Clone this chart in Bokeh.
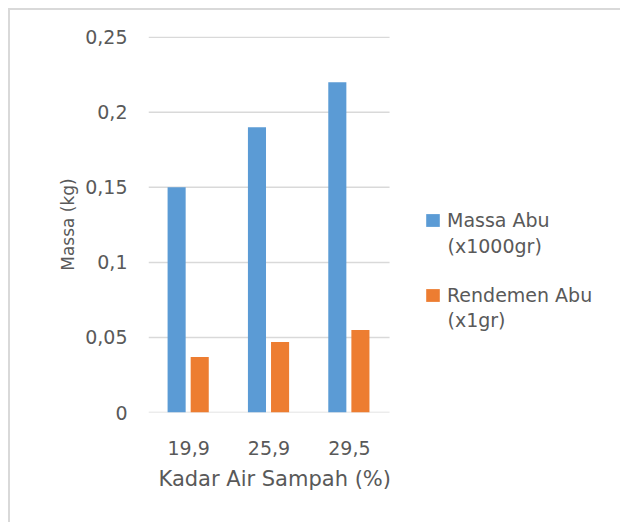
from bokeh.plotting import figure
from bokeh.models import (ColumnDataSource, Range1d, FixedTicker,
                          Legend, LegendItem, Title, Label)
from bokeh.transform import dodge
from bokeh.embed import file_html
from bokeh.resources import INLINE

categories = ["19,9", "25,9", "29,5"]
massa_abu = [0.15, 0.19, 0.22]
rendemen_abu = [0.037, 0.047, 0.055]
y_ticks = [0, 0.05, 0.1, 0.15, 0.2, 0.25]
y_tick_labels = ["0", "0,05", "0,1", "0,15", "0,2", "0,25"]
series_names = ["Massa Abu", "Rendemen Abu"]
series_units = ["(x1000gr)", "(x1gr)"]
x_title = "Kadar Air Sampah  (%)"
y_title = "Massa (kg)"

FONT = "DejaVu Sans"
TXT = "#595959"
GRID = "#d9d9d9"

# category slots: one unit per category, centred at i + 0.5
x_pos = [i + 0.5 for i in range(len(categories))]
n_cat = len(categories)

src = ColumnDataSource(dict(x=x_pos, massa=massa_abu, rend=rendemen_abu))

FRAME_W = 460          # px, frame spans plot + legend area
CAT_W = 80             # px per category slot
p = figure(width=612, height=514, output_backend="svg", toolbar_location=None,
           x_range=Range1d(0, FRAME_W / CAT_W),
           y_range=Range1d(0, 0.2505),
           min_border_left=138, min_border_right=12, min_border_top=26,
           min_border_bottom=112)
p.styles = {"border-left": "2px solid #d9d9d9", "border-top": "2px solid #d9d9d9",
            "margin-left": "8px", "margin-top": "8px"}
p.outline_line_color = None
p.background_fill_color = "white"
p.border_fill_color = "white"

# horizontal grid lines, limited to the category area
p.xgrid.grid_line_color = None
p.ygrid.grid_line_color = None
p.segment(x0=0, x1=n_cat, y0=y_ticks, y1=y_ticks, line_color=GRID,
          line_width=1.5, level="underlay")

r1 = p.vbar(x=dodge("x", -0.15), top="massa", width=0.225,
            source=src, fill_color="#5b9bd5", line_color=None)
r2 = p.vbar(x=dodge("x", 0.1375), top="rend", width=0.225,
            source=src, fill_color="#ed7d31", line_color=None)

p.yaxis.ticker = FixedTicker(ticks=y_ticks)
p.yaxis.major_label_overrides = dict(zip(y_ticks, y_tick_labels))
p.xaxis.ticker = FixedTicker(ticks=x_pos)
p.xaxis.major_label_overrides = dict(zip(x_pos, categories))

for ax in (p.xaxis[0], p.yaxis[0]):
    ax.axis_line_color = None
    ax.major_tick_line_color = None
    ax.minor_tick_line_color = None
    ax.major_label_text_font = FONT
    ax.major_label_text_font_size = "19px"
    ax.major_label_text_color = TXT
    ax.axis_label_text_font = FONT
    ax.axis_label_text_font_style = "normal"
    ax.axis_label_text_color = TXT

p.yaxis.major_label_standoff = 15
p.yaxis.axis_label = y_title
p.yaxis.axis_label_text_font_size = "17px"
p.yaxis.axis_label_standoff = 4
p.xaxis.major_label_standoff = 22

# x-axis title, aligned under the category area (not the legend area)
xt = Title(text=x_title, align="left", offset=10, standoff=15,
           text_font=FONT, text_font_size="21px", text_font_style="normal",
           text_color=TXT)
p.add_layout(xt, "below")

legend = Legend(items=[LegendItem(label=series_names[0], renderers=[r1]),
                       LegendItem(label=series_names[1], renderers=[r2])],
                location=(276, 105), orientation="vertical")
legend.border_line_color = None
legend.background_fill_alpha = 0
legend.padding = 0
legend.margin = 0
legend.glyph_width = 17
legend.glyph_height = 16
legend.label_standoff = 6
legend.label_height = 24
legend.spacing = 51
legend.label_text_font = FONT
legend.label_text_font_size = "19px"
legend.label_text_baseline = "middle"
legend.label_text_color = TXT
p.add_layout(legend, "center")

# second line of each legend entry (unit), placed in screen px from frame
unit_y = [167, 93]
for unit, uy in zip(series_units, unit_y):
    p.add_layout(Label(x=299, y=uy, x_units="screen", y_units="screen",
                       text=unit, text_font=FONT, text_font_size="19px",
                       text_color=TXT, text_baseline="middle", text_align="left"))

open("out.html", "w").write(file_html(p, INLINE))
